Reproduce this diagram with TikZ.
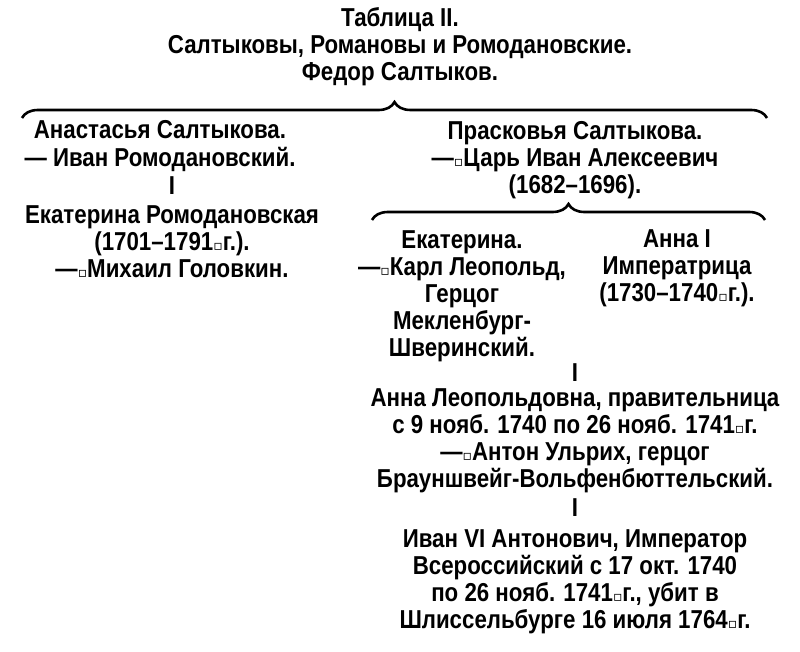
\documentclass[tikz,border=0pt]{standalone}
\usepackage{fontspec}
\setmainfont{Liberation Sans}[FakeStretch=0.86,BoldFont={* Bold},BoldFeatures={FakeStretch=0.86}]
\newfontfamily\symf{DejaVu Sans}
\newcommand{\sq}{{\symf\fontsize{7}{7}\selectfont ▫}}
\usetikzlibrary{decorations.pathreplacing}
\begin{document}
\begin{tikzpicture}[x=0.5bp,y=-0.5bp,
  txt/.style={align=center,inner sep=0pt,font=\bfseries\fontsize{13}{13.6}\selectfont},
  br/.style={decorate,decoration={brace,amplitude=8bp},line width=1.3bp}]
\useasboundingbox (0,0) rectangle (800,652);
\node[txt] (title) at (400,47) {Таблица II.\\Салтыковы, Романовы и Ромодановские.\\Федор Салтыков.};
\coordinate (b1l) at (22,118); \coordinate (b1r) at (767,118);
\draw[br] (b1l) -- (b1r);
\node[txt] (anast) at (160,146) {Анастасья Салтыкова.\\— Иван Ромодановский.};
\node[txt] (i1) at (172,186) {I};
\node[txt] (ekr) at (172,242) {Екатерина Ромодановская\\(1701–1791\sq г.).\\—\sq Михаил Головкин.};
\node[txt] (prask) at (575,160) {Прасковья Салтыкова.\\—\sq Царь Иван Алексеевич\\(1682–1696).};
\coordinate (b2l) at (372,220); \coordinate (b2r) at (765,220);
\draw[br] (b2l) -- (b2r);
\node[txt] (ekat) at (462,296) {Екатерина.\\—\sq Карл Леопольд,\\Герцог\\Мекленбург-\\Шверинский.};
\node[txt] (anna) at (677,268) {Анна I\\Императрица\\(1730–1740\sq г.).};
\node[txt] (i2) at (575,373) {I};
\node[txt] (annal) at (575,441) {Анна Леопольдовна, правительница\\с 9 нояб. 1740 по 26 нояб. 1741\sq г.\\—\sq Антон Ульрих, герцог\\Брауншвейг-Вольфенбюттельский.};
\node[txt] (i3) at (575,508) {I};
\node[txt] (ivan) at (575,582) {Иван VI Антонович, Император\\Всероссийский с 17 окт. 1740\\по 26 нояб. 1741\sq г., убит в\\Шлиссельбурге 16 июля 1764\sq г.};
\end{tikzpicture}
\end{document}
